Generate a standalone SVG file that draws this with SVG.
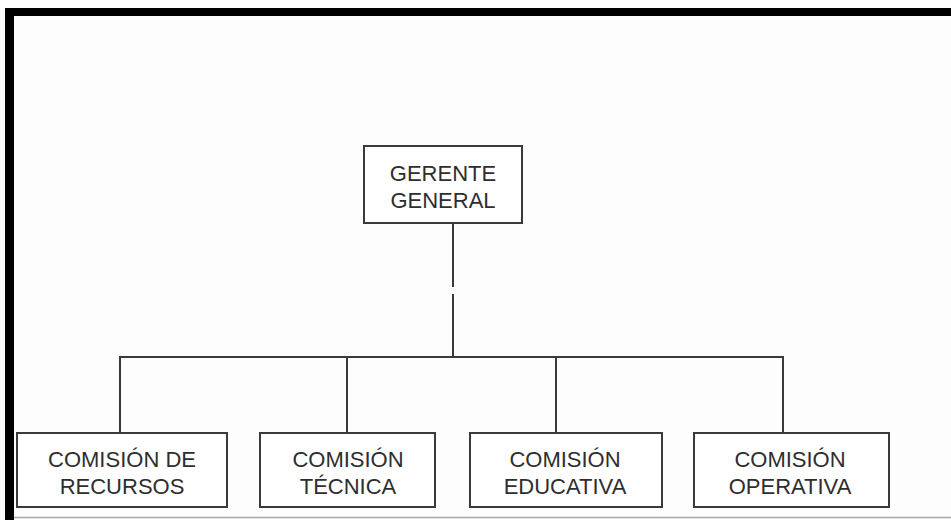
<svg xmlns="http://www.w3.org/2000/svg" width="951" height="520" viewBox="0 0 951 520">
<style>
.box{fill:#ffffff;stroke:#3a3a3a;stroke-width:2}
.t{font-family:"Liberation Sans",Arial,sans-serif;font-size:22px;fill:#2e2e2e;text-anchor:middle}
.c{stroke:#3a3a3a;stroke-width:2;fill:none}
</style>
<rect x="0" y="0" width="951" height="520" fill="#fdfdfd"/>
<g id="frame">
<rect x="5" y="8" width="946" height="8" fill="#000"/>
<rect x="5" y="8" width="9" height="512" fill="#000"/>
<line x1="14" y1="517.5" x2="951" y2="517.5" stroke="#a8a8a8" stroke-width="1.5"/>
</g>
<g id="connectors">
<line class="c" x1="453" y1="223" x2="453" y2="287"/>
<line class="c" x1="453" y1="294" x2="453" y2="357"/>
<polyline class="c" points="120,432 120,357 783,357 783,432"/>
<line class="c" x1="347" y1="357" x2="347" y2="432"/>
<line class="c" x1="556" y1="357" x2="556" y2="432"/>
</g>
<g id="gerente">
<rect class="box" x="364" y="146" width="158" height="77"/>
<text class="t" x="443" y="181">GERENTE</text>
<text class="t" x="443" y="208">GENERAL</text>
</g>
<g id="recursos">
<rect class="box" x="17" y="433" width="210" height="74"/>
<text class="t" x="122" y="467">COMISIÓN DE</text>
<text class="t" x="122" y="494">RECURSOS</text>
</g>
<g id="tecnica">
<rect class="box" x="260" y="433" width="175" height="74"/>
<text class="t" x="348" y="467">COMISIÓN</text>
<text class="t" x="348" y="494">TÉCNICA</text>
</g>
<g id="educativa">
<rect class="box" x="470" y="433" width="192" height="74"/>
<text class="t" x="565" y="467">COMISIÓN</text>
<text class="t" x="565" y="494">EDUCATIVA</text>
</g>
<g id="operativa">
<rect class="box" x="694" y="433" width="195" height="74"/>
<text class="t" x="790" y="467">COMISIÓN</text>
<text class="t" x="790" y="494">OPERATIVA</text>
</g>
</svg>
